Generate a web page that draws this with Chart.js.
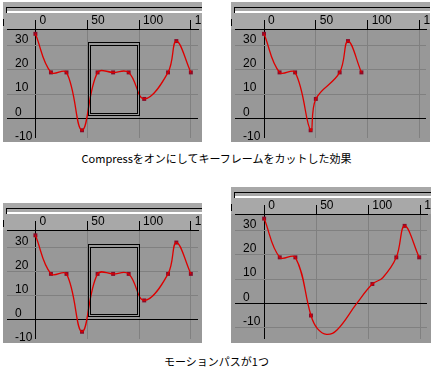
<!DOCTYPE html>
<html>
<head>
<meta charset="utf-8">
<script src="https://cdn.jsdelivr.net/npm/chart.js@4/dist/chart.umd.min.js"></script>
<style>
  body { margin: 0; background: #fff; width: 433px; height: 370px; position: relative; overflow: hidden; }
  canvas { position: absolute; }
  .caption { position: absolute; left: 0; width: 433px; text-align: center; font-family: "Noto Sans CJK JP", sans-serif; font-size: 11px; line-height: 11px; color: #000; }
</style>
</head>
<body>
<canvas id="chart1" width="199" height="140" style="left:3px;top:2px"></canvas>
<canvas id="chart2" width="199" height="140" style="left:231px;top:2px"></canvas>
<div class="caption" style="top:153px">Compressをオンにしてキーフレームをカットした効果</div>
<canvas id="chart3" width="199" height="140" style="left:3px;top:203px"></canvas>
<canvas id="chart4" width="200" height="156" style="left:231px;top:187px"></canvas>
<div class="caption" style="top:356px">モーションパスが1つ</div>

<script>
// tick labels
const xTicks = [0, 50, 100, 150];
const yTicks = [-10, 0, 10, 20, 30];

// original keys (top-left and bottom-left)
const fullKeyX = [0, 15, 30, 45, 60, 75, 90, 105, 128, 136, 150];
const fullKeyY = [35, 19, 19, -5, 19, 19, 19, 8, 19, 32, 19];

// keys after cutting with Compress on
const cutKeyX = [0, 15, 30, 45, 50, 73, 81, 94];
const cutKeyY = [35, 19, 19, -5, 8, 19, 32, 19];

// one motion path: keys and the path
const pathKeyX = [0, 15, 30, 45, 104, 127, 135, 149];
const pathKeyY = [35, 19, 19, -5, 8, 19, 32, 19];
const pathCurveX = [0, 15, 30, 45, 51, 60, 70, 89, 104, 114, 127, 135, 149];
const pathCurveY = [35, 19, 19, -5, -10.3, -12.8, -11, 0, 8, 10.6, 19, 32, 19];

// selected range box (frames, values)
const boxX = [50.5, 100];
const boxY = [1.5, 31.5];

const RULER_BG = '#a8a8a8';
const PLOT_BG = '#989898';
const GRID_COLOR = '#808080';
const CURVE_COLOR = '#dd0000';
const KEY_COLOR = '#8c0a28';

const panelBackground = {
    id: 'panelBackground',
    beforeDraw(chart) {
        const { ctx, width, height, chartArea } = chart;
        ctx.save();
        ctx.fillStyle = RULER_BG;
        ctx.fillRect(0, 0, width, chartArea.top);
        ctx.fillStyle = PLOT_BG;
        ctx.fillRect(0, chartArea.top, width, height - chartArea.top);
        // scroll bar on top of the ruler
        ctx.fillStyle = '#000';
        ctx.fillRect(3, 5, width - 3, 1);
        ctx.fillRect(3, 5, 1, 6);
        ctx.fillRect(0, 17, 1, 7);
        ctx.fillStyle = '#fff';
        ctx.fillRect(4, 9, width - 4, 2);
        ctx.restore();
    }
};

function boxPlugin(show) {
    return {
        id: 'selectionBox',
        afterDatasetsDraw(chart) {
            if (!show) return;
            const { ctx, scales: { x, y } } = chart;
            const l = Math.round(x.getPixelForValue(boxX[0])) + 0.5;
            const r = Math.round(x.getPixelForValue(boxX[1])) + 0.5;
            const t = Math.round(y.getPixelForValue(boxY[1])) + 0.5;
            const b = Math.round(y.getPixelForValue(boxY[0])) + 0.5;
            ctx.save();
            ctx.strokeStyle = '#000';
            ctx.lineWidth = 1;
            ctx.strokeRect(l, t, r - l, b - t);
            ctx.strokeRect(l + 2, t + 3, r - l - 4, b - t - 5);
            ctx.restore();
        }
    };
}

const toPoints = (xs, ys) => xs.map((x, i) => ({ x: x, y: ys[i] }));
const labelFont = { family: '"Liberation Sans", Arial, sans-serif', size: 12 };

function makePanel(id, p) {
    new Chart(document.getElementById(id), {
        type: 'scatter',
        data: {
            datasets: [{
                data: toPoints(p.curveX, p.curveY),
                showLine: true,
                borderColor: CURVE_COLOR,
                borderWidth: 1.3,
                tension: 0.4,
                pointRadius: 0,
                pointHoverRadius: 0
            }, {
                data: toPoints(p.keyX, p.keyY),
                showLine: false,
                pointStyle: 'rect',
                pointRadius: 2.8,
                backgroundColor: KEY_COLOR,
                borderWidth: 0
            }]
        },
        options: {
            responsive: false,
            animation: false,
            events: [],
            layout: { padding: 0 },
            plugins: { legend: { display: false }, tooltip: { enabled: false } },
            scales: {
                x: {
                    type: 'linear',
                    position: 'top',
                    min: p.xMin,
                    max: p.xMax,
                    afterBuildTicks: s => { s.ticks = xTicks.map(v => ({ value: v })); },
                    afterFit: s => {
                        s.height = 27;
                        s.paddingLeft = 0;
                        s.paddingRight = 0;
                    },
                    grid: {
                        color: c => (c.tick && c.tick.value === 0 ? '#000' : GRID_COLOR),
                        tickColor: '#000',
                        tickLength: 9,
                        lineWidth: 1
                    },
                    border: { color: '#000', width: 1 },
                    ticks: {
                        align: 'start',
                        labelOffset: 4,
                        padding: -8,
                        color: '#000',
                        font: labelFont,
                        autoSkip: false,
                        maxRotation: 0
                    }
                },
                y: {
                    type: 'linear',
                    min: p.yMin,
                    max: p.yMax,
                    afterBuildTicks: s => { s.ticks = yTicks.map(v => ({ value: v })); },
                    afterFit: s => {
                        s.width = 0;
                        s.paddingTop = 0;
                        s.paddingBottom = 0;
                    },
                    grid: {
                        color: c => (c.tick && c.tick.value === 0 ? '#000' : GRID_COLOR),
                        drawTicks: false,
                        lineWidth: 1
                    },
                    border: { display: false },
                    ticks: {
                        mirror: true,
                        padding: 8,
                        labelOffset: -6,
                        color: '#000',
                        font: labelFont,
                        autoSkip: false
                    }
                }
            }
        },
        plugins: [panelBackground, boxPlugin(p.box)]
    });
}

document.addEventListener('DOMContentLoaded', () => {
    makePanel('chart1', { curveX: fullKeyX, curveY: fullKeyY, keyX: fullKeyX, keyY: fullKeyY,
        xMin: -27.4, xMax: 156.9, yMin: -8.2, yMax: 37.0, box: true });
    makePanel('chart2', { curveX: cutKeyX, curveY: cutKeyY, keyX: cutKeyX, keyY: cutKeyY,
        xMin: -28.0, xMax: 156.3, yMin: -8.2, yMax: 37.0, box: false });
    makePanel('chart3', { curveX: fullKeyX, curveY: fullKeyY, keyX: fullKeyX, keyY: fullKeyY,
        xMin: -27.4, xMax: 156.9, yMin: -8.0, yMax: 37.2, box: true });
    makePanel('chart4', { curveX: pathCurveX, curveY: pathCurveY, keyX: pathKeyX, keyY: pathKeyY,
        xMin: -28.0, xMax: 156.5, yMin: -14.7, yMax: 36.9, box: false });
});
</script>
</body>
</html>
